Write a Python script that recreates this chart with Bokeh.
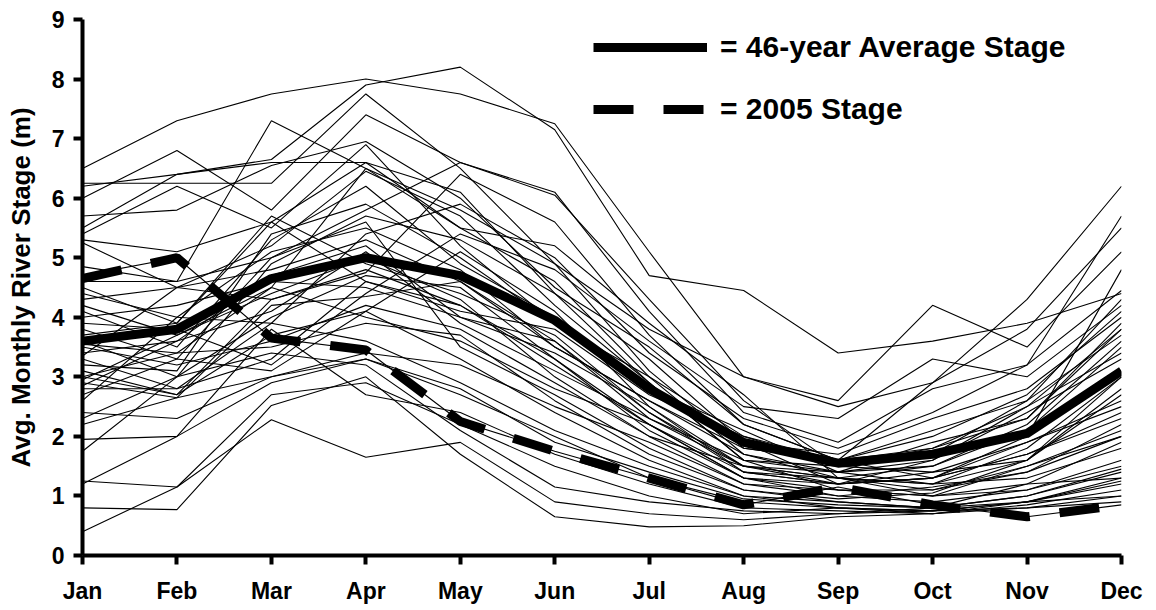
from bokeh.plotting import figure
from bokeh.models import Range1d, FixedTicker, Legend, LegendItem
from bokeh.embed import file_html
from bokeh.resources import INLINE

months = ["Jan", "Feb", "Mar", "Apr", "May", "Jun", "Jul", "Aug", "Sep", "Oct", "Nov", "Dec"]
y_ticks = [0, 1, 2, 3, 4, 5, 6, 7, 8, 9]

avg_stage = [3.6, 3.8, 4.65, 5.0, 4.7, 3.95, 2.8, 1.9, 1.55, 1.7, 2.05, 3.1]
stage_2005 = [4.65, 5.0, 3.65, 3.45, 2.25, 1.75, 1.3, 0.85, 1.15, 0.85, 0.65, 0.85]

yearly_stages = [
    [6.5, 7.3, 7.75, 8.0, 7.75, 7.25, 5.1, 3.0, 2.5, 2.9, 3.8, 5.5],
    [6.2, 6.4, 6.65, 7.9, 8.2, 7.15, 4.7, 4.45, 3.4, 3.6, 3.9, 4.4],
    [6.25, 6.25, 6.25, 7.75, 6.5, 4.9, 3.8, 3.0, 2.6, 4.2, 3.5, 5.1],
    [6.0, 6.8, 5.8, 7.4, 6.6, 6.05, 4.3, 2.6, 1.5, 1.8, 2.5, 3.8],
    [5.7, 5.8, 6.55, 6.95, 6.0, 4.5, 3.5, 2.2, 1.6, 2.1, 2.6, 4.3],
    [5.5, 6.4, 6.6, 6.6, 5.5, 5.2, 3.9, 2.7, 1.3, 1.2, 1.8, 3.0],
    [5.4, 6.2, 5.5, 6.9, 5.2, 3.9, 3.0, 2.0, 1.5, 1.4, 1.6, 2.7],
    [5.3, 5.1, 5.6, 6.6, 6.1, 4.4, 3.3, 1.9, 1.2, 1.3, 2.0, 4.8],
    [5.25, 4.5, 5.2, 6.45, 5.7, 4.2, 2.9, 1.6, 1.1, 1.0, 1.2, 1.9],
    [4.85, 4.6, 7.3, 6.5, 5.8, 4.9, 3.1, 1.8, 1.6, 2.9, 4.3, 6.2],
    [4.6, 4.6, 5.0, 5.8, 6.6, 6.1, 4.1, 2.4, 1.9, 2.8, 3.2, 4.45],
    [4.5, 3.9, 5.7, 4.9, 4.4, 3.7, 2.4, 1.5, 1.3, 1.1, 1.4, 2.2],
    [4.3, 4.5, 4.8, 5.3, 4.6, 3.5, 2.6, 1.7, 1.4, 1.5, 2.2, 3.6],
    [4.2, 3.7, 4.4, 5.0, 4.3, 3.0, 2.0, 1.2, 1.0, 0.9, 1.1, 1.5],
    [4.1, 3.5, 5.3, 6.2, 4.9, 4.0, 2.8, 1.9, 1.7, 2.3, 2.8, 4.0],
    [4.0, 4.2, 4.6, 4.5, 4.0, 3.4, 2.5, 1.4, 1.2, 1.6, 2.4, 3.3],
    [3.9, 3.8, 3.2, 4.4, 5.4, 4.8, 3.6, 2.5, 2.3, 3.3, 3.0, 4.2],
    [3.8, 3.3, 5.0, 5.6, 3.5, 2.7, 1.8, 1.1, 0.9, 0.8, 1.0, 1.4],
    [3.6, 3.0, 4.0, 4.7, 4.5, 3.3, 2.1, 1.3, 1.1, 1.0, 1.5, 2.0],
    [3.5, 3.2, 3.6, 4.2, 3.8, 2.9, 2.0, 1.5, 1.4, 1.2, 1.3, 1.8],
    [3.4, 3.6, 4.1, 5.1, 3.9, 3.1, 2.3, 1.6, 1.5, 1.7, 2.6, 3.7],
    [3.3, 2.8, 3.3, 4.6, 4.1, 3.8, 2.7, 2.0, 1.6, 1.3, 1.9, 2.5],
    [3.2, 3.1, 5.4, 5.9, 5.0, 3.9, 2.8, 2.1, 1.4, 1.9, 2.3, 3.9],
    [3.1, 2.7, 3.7, 4.1, 3.3, 2.4, 1.6, 1.0, 0.9, 0.8, 1.2, 1.3],
    [3.0, 3.4, 3.5, 3.9, 3.7, 2.6, 1.7, 1.1, 0.95, 1.05, 1.6, 2.8],
    [3.0, 2.7, 4.3, 4.8, 4.2, 3.2, 2.2, 1.3, 1.2, 1.3, 1.7, 2.3],
    [2.95, 3.7, 4.5, 6.5, 5.5, 4.6, 3.0, 1.7, 1.3, 1.5, 2.1, 3.5],
    [2.9, 2.65, 3.0, 3.4, 3.2, 2.5, 1.9, 1.2, 1.1, 1.1, 1.5, 2.1],
    [2.85, 3.6, 4.7, 5.2, 4.0, 3.6, 2.4, 1.4, 1.3, 1.0, 1.1, 1.6],
    [2.8, 2.8, 3.9, 3.6, 2.9, 2.1, 1.5, 1.0, 0.8, 0.75, 0.9, 1.2],
    [2.6, 4.0, 5.1, 5.5, 4.8, 3.5, 2.6, 1.8, 1.6, 2.0, 2.7, 4.1],
    [2.4, 2.3, 3.0, 3.3, 2.7, 2.0, 1.3, 0.9, 0.8, 0.7, 0.85, 1.1],
    [2.3, 3.0, 4.9, 5.7, 5.3, 4.4, 2.9, 1.6, 1.4, 1.6, 2.5, 3.4],
    [2.2, 2.65, 4.2, 4.35, 4.6, 3.6, 2.3, 1.5, 1.2, 1.4, 1.9, 2.6],
    [1.95, 2.0, 3.8, 2.7, 2.4, 1.7, 1.2, 0.8, 0.75, 0.7, 0.8, 1.0],
    [1.75, 3.0, 3.4, 3.2, 2.1, 1.15, 0.9, 0.75, 0.7, 0.8, 0.9, 1.3],
    [1.25, 1.15, 2.28, 1.65, 1.9, 0.9, 0.7, 0.6, 0.7, 0.75, 0.8, 0.9],
    [1.2, 2.0, 2.9, 3.3, 2.8, 1.9, 1.4, 0.95, 0.85, 0.8, 1.0, 1.45],
    [0.8, 0.77, 2.52, 3.0, 1.7, 0.65, 0.48, 0.5, 0.65, 0.7, 0.9, 1.0],
    [0.4, 1.15, 2.7, 2.9, 2.2, 1.5, 1.0, 0.7, 0.8, 0.75, 0.9, 1.25],
    [3.55, 3.4, 4.5, 4.0, 3.6, 2.8, 2.2, 1.4, 1.2, 1.3, 1.7, 2.4],
    [4.4, 4.0, 3.9, 5.4, 5.9, 5.0, 3.4, 2.3, 1.8, 2.4, 3.2, 5.7],
    [3.7, 3.9, 5.6, 4.6, 4.2, 3.3, 2.2, 1.3, 1.0, 1.15, 1.4, 2.0],
    [2.7, 3.3, 3.1, 4.1, 5.1, 4.1, 2.5, 1.5, 1.3, 1.2, 1.6, 3.0],
    [4.7, 5.0, 3.65, 3.45, 2.25, 1.75, 1.3, 0.85, 1.15, 0.85, 0.65, 0.85],
    [3.35, 4.5, 4.3, 4.75, 6.4, 5.6, 3.7, 2.2, 1.6, 1.8, 2.3, 3.8],
]

FONT = "Liberation Sans"
xs = list(range(len(months)))

p = figure(width=1156, height=610, output_backend="svg", toolbar_location=None,
           x_range=Range1d(0, 11), y_range=Range1d(0, 9),
           min_border_left=82, min_border_right=35, min_border_top=19, min_border_bottom=55)
p.outline_line_color = None
p.xgrid.visible = False
p.ygrid.visible = False
p.background_fill_color = "white"

for ys in yearly_stages:
    p.line(xs, ys, line_color="black", line_width=1.1)

r_avg = p.line(xs, avg_stage, line_color="black", line_width=9, line_join="round")
r_2005 = p.line(xs, stage_2005, line_color="black", line_width=9, line_dash="40 30")

legend = Legend(items=[LegendItem(label="= 46-year Average Stage", renderers=[r_avg]),
                       LegendItem(label="= 2005 Stage", renderers=[r_2005])],
                location=(511, 428), glyph_width=114, glyph_height=36, label_height=36,
                spacing=26, padding=0, margin=0, label_standoff=13,
                label_text_font=FONT, label_text_font_style="bold", label_text_font_size="30px",
                label_text_color="black",
                background_fill_alpha=0, border_line_alpha=0)
p.add_layout(legend)

for ax in (p.xaxis[0], p.yaxis[0]):
    ax.axis_line_width = 4
    ax.major_tick_line_width = 4
    ax.major_tick_in = 0
    ax.major_tick_out = 9
    ax.minor_tick_line_color = None
    ax.major_label_text_font = FONT
    ax.major_label_text_font_style = "bold"
    ax.major_label_text_font_size = "23px"
    ax.major_label_text_color = "black"
    ax.axis_line_color = "black"
    ax.major_tick_line_color = "black"

p.xaxis.ticker = FixedTicker(ticks=xs)
p.xaxis.major_label_overrides = {i: m for i, m in enumerate(months)}
p.xaxis.major_label_standoff = 13
p.yaxis.ticker = FixedTicker(ticks=y_ticks)
p.yaxis.major_label_standoff = 9
p.yaxis.axis_label = "Avg. Monthly River Stage (m)"
p.yaxis.axis_label_text_font = FONT
p.yaxis.axis_label_text_font_style = "bold"
p.yaxis.axis_label_text_font_size = "26px"
p.yaxis.axis_label_text_color = "black"
p.yaxis.axis_label_standoff = 13

open("out.html", "w").write(file_html(p, INLINE))
